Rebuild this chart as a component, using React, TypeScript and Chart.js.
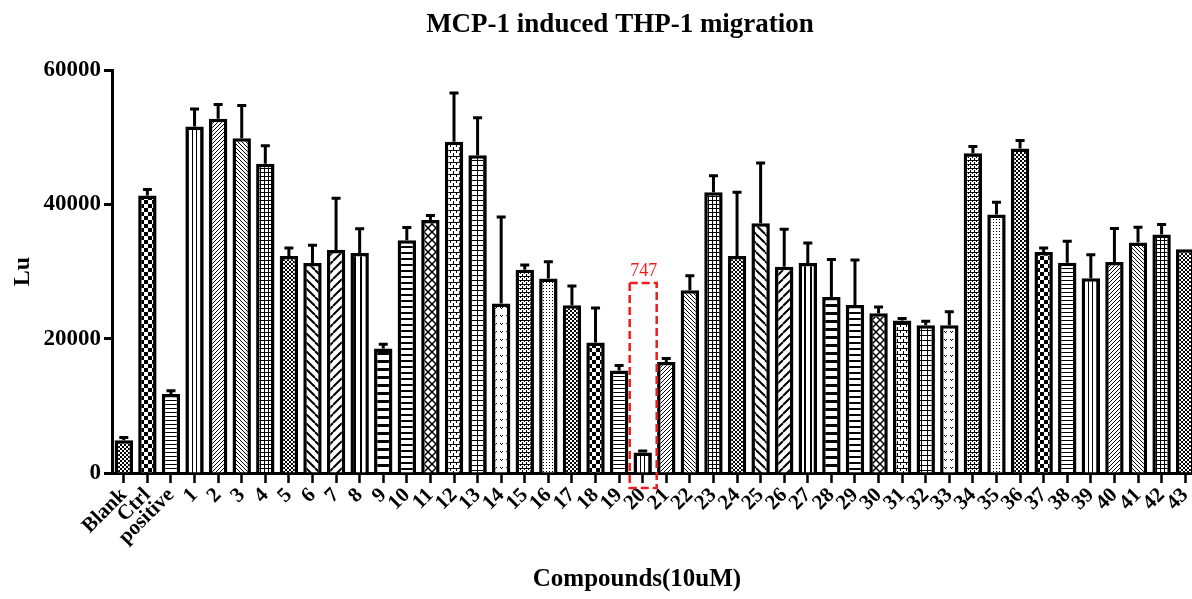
import React, { useEffect, useRef } from "react";
import { Chart, registerables } from "chart.js";

Chart.register(...registerables);

const TITLE = "MCP-1 induced THP-1 migration";
const X_TITLE = "Compounds(10uM)";
const Y_TITLE = "Lu";

const CATEGORIES = [
  "Blank", "Ctrl", "positive",
  "1", "2", "3", "4", "5", "6", "7", "8", "9", "10",
  "11", "12", "13", "14", "15", "16", "17", "18", "19", "20",
  "21", "22", "23", "24", "25", "26", "27", "28", "29", "30",
  "31", "32", "33", "34", "35", "36", "37", "38", "39", "40",
  "41", "42", "43",
];

const MEANS = [
  4890, 41300, 11760,
  51600, 52750, 49850, 46060, 32290, 31250, 33200, 32760, 18530, 34650,
  37680, 49320, 47300, 25250, 30270, 28950, 24980, 19430, 15250, 3040,
  16530, 27210, 41810, 32290, 37170, 30700, 31250, 26200, 25000, 23800,
  22700, 22000, 22000, 47600, 38500, 48300, 32900, 31300, 29000, 31400,
  34300, 35500, 33300,
];

const ERRORS = [
  400, 900, 500,
  2600, 2100, 4850, 2650, 1200, 2650, 7700, 3600, 640, 1900,
  650, 7250, 5600, 12850, 700, 2500, 2860, 5150, 750, 250,
  500, 2170, 2430, 9500, 9000, 5580, 3000, 5600, 6700, 900,
  300, 600, 2000, 1000, 1800, 1200, 600, 3200, 3500, 5000,
  2300, 1500, 0,
];

const Y_TICKS = [0, 20000, 40000, 60000];

const HIGHLIGHT_CATEGORY = "20";
const HIGHLIGHT_LABEL = "747";
const HIGHLIGHT_TOP = 28300;

const SERIF = "'Liberation Serif', 'Times New Roman', serif";

function makePatterns(ctx: CanvasRenderingContext2D): CanvasPattern[] {
  const tile = (w: number, h: number, draw: (g: CanvasRenderingContext2D) => void) => {
    const c = document.createElement("canvas");
    c.width = w;
    c.height = h;
    const g = c.getContext("2d")!;
    g.fillStyle = "#fff";
    g.fillRect(0, 0, w, h);
    g.fillStyle = "#000";
    g.strokeStyle = "#000";
    draw(g);
    return ctx.createPattern(c, "repeat")!;
  };
  const diag = (g: CanvasRenderingContext2D, s: number, lw: number, dir: number) => {
    g.lineWidth = lw;
    g.beginPath();
    for (const off of [-s, 0, s]) {
      if (dir > 0) {
        g.moveTo(off, s);
        g.lineTo(off + s, 0);
      } else {
        g.moveTo(off, 0);
        g.lineTo(off + s, s);
      }
    }
    g.stroke();
  };
  return [
    // 0 fine checker
    tile(4, 4, (g) => { g.fillRect(0, 0, 2, 2); g.fillRect(2, 2, 2, 2); }),
    // 1 coarse checker
    tile(8, 8, (g) => { g.fillRect(0, 0, 4, 4); g.fillRect(4, 4, 4, 4); }),
    // 2 horizontal lines
    tile(4, 4, (g) => { g.fillRect(0, 0, 4, 1); }),
    // 3 vertical lines
    tile(4, 4, (g) => { g.fillRect(0, 0, 1, 4); }),
    // 4 fine /
    tile(4, 4, (g) => { for (let i = 0; i < 4; i++) g.fillRect(i, 3 - i, 1, 1); }),
    // 5 fine \
    tile(4, 4, (g) => { for (let i = 0; i < 4; i++) g.fillRect(i, i, 1, 1); }),
    // 6 grid
    tile(4, 4, (g) => { g.fillRect(0, 0, 4, 1); g.fillRect(0, 0, 1, 4); }),
    // 7 fine crosshatch
    tile(4, 4, (g) => { for (let i = 0; i < 4; i++) { g.fillRect(i, i, 1, 1); g.fillRect(i, 3 - i, 1, 1); } }),
    // 8 wide \
    tile(9, 9, (g) => diag(g, 9, 2, -1)),
    // 9 wide /
    tile(9, 9, (g) => diag(g, 9, 2, 1)),
    // 10 sparse vertical
    tile(6, 6, (g) => { g.fillRect(0, 0, 2, 6); }),
    // 11 thick horizontal bars
    tile(8, 8, (g) => { g.fillRect(0, 0, 8, 3); }),
    // 12 ladder
    tile(6, 6, (g) => { g.fillRect(0, 0, 6, 2); }),
    // 13 X cross
    tile(8, 8, (g) => { diag(g, 8, 1.5, 1); diag(g, 8, 1.5, -1); }),
    // 14 brick
    tile(6, 6, (g) => { g.fillRect(0, 0, 6, 1); g.fillRect(0, 0, 1, 3); g.fillRect(3, 3, 1, 3); }),
    // 15 horizontal lines with center vertical
    tile(6, 5, (g) => { g.fillRect(0, 0, 6, 1); g.fillRect(3, 0, 1, 5); }),
    // 16 v marks
    tile(6, 8, (g) => { g.fillRect(2, 3, 1, 1); g.fillRect(3, 4, 1, 1); g.fillRect(4, 3, 1, 1); }),
    // 17 small brick
    tile(4, 4, (g) => { g.fillRect(0, 0, 4, 1); g.fillRect(0, 0, 1, 2); g.fillRect(2, 2, 1, 2); }),
    // 18 dots
    tile(3, 3, (g) => { g.fillRect(0, 0, 1, 1); }),
  ];
}

const decorPlugin = {
  id: "decor",
  afterDatasetsDraw(chart: any) {
    const { ctx } = chart;
    const xs = chart.scales.x;
    const ys = chart.scales.y;
    ctx.save();
    ctx.strokeStyle = "#000";
    ctx.lineWidth = 3;
    ctx.lineCap = "butt";
    MEANS.forEach((m, i) => {
      const e = ERRORS[i];
      if (!e) return;
      const x = xs.getPixelForValue(i);
      const y0 = ys.getPixelForValue(m);
      const y1 = ys.getPixelForValue(m + e);
      ctx.beginPath();
      ctx.moveTo(x, y0);
      ctx.lineTo(x, y1);
      ctx.moveTo(x - 4.5, y1);
      ctx.lineTo(x + 4.5, y1);
      ctx.stroke();
    });
    ctx.restore();
  },
  afterDraw(chart: any) {
    const { ctx } = chart;
    const xs = chart.scales.x;
    const ys = chart.scales.y;
    ctx.save();
    // titles
    ctx.fillStyle = "#000";
    ctx.textAlign = "center";
    ctx.textBaseline = "middle";
    ctx.font = `bold 27px ${SERIF}`;
    ctx.fillText(TITLE, 620, 25);
    ctx.font = `bold 25px ${SERIF}`;
    ctx.fillText(X_TITLE, 637, 580);

    // highlight box
    const idx = CATEGORIES.indexOf(HIGHLIGHT_CATEGORY);
    const cx = xs.getPixelForValue(idx);
    const top = ys.getPixelForValue(HIGHLIGHT_TOP);
    const bottom = ys.getPixelForValue(0) + 15;
    ctx.strokeStyle = "#f01c1c";
    ctx.lineWidth = 2.5;
    ctx.setLineDash([8, 4]);
    ctx.strokeRect(cx - 13, top, 27, bottom - top);
    ctx.setLineDash([]);
    ctx.fillStyle = "#f01c1c";
    ctx.font = `18px ${SERIF}`;
    ctx.fillText(HIGHLIGHT_LABEL, cx + 1, top - 12);
    ctx.restore();
  },
};

export default function App() {
  const canvasRef = useRef<HTMLCanvasElement | null>(null);

  useEffect(() => {
    const canvas = canvasRef.current;
    if (!canvas) return;
    const ctx = canvas.getContext("2d")!;
    const patterns = makePatterns(ctx);
    const fills = CATEGORIES.map((_, i) => patterns[i % patterns.length]);

    const chart = new Chart(canvas, {
      type: "bar",
      data: {
        labels: CATEGORIES,
        datasets: [
          {
            data: MEANS,
            backgroundColor: fills as any,
            borderColor: "#000",
            borderWidth: 3.5,
            borderSkipped: "bottom",
            barPercentage: 0.78,
            categoryPercentage: 1,
          },
        ],
      },
      options: {
        animation: false,
        responsive: false,
        devicePixelRatio: 1,
        layout: { padding: { top: 70, left: 0, right: 0, bottom: 0 } },
        plugins: {
          legend: { display: false },
          tooltip: { enabled: false },
          title: { display: false },
        },
        scales: {
          x: {
            type: "category",
            offset: true,
            afterFit: (scale: any) => {
              scale.height = 126;
            },
            grid: {
              display: true,
              drawOnChartArea: false,
              drawTicks: true,
              tickLength: 10,
              tickWidth: 2.5,
              tickColor: "#000",
              offset: false,
            },
            border: { display: true, color: "#000", width: 3 },
            ticks: {
              autoSkip: false,
              maxRotation: 45,
              minRotation: 45,
              padding: 0,
              color: "#000",
              font: { family: SERIF, size: 21, weight: "bold" },
            },
          },
          y: {
            min: 0,
            max: 60000,
            afterFit: (scale: any) => {
              scale.width = 112;
            },
            afterBuildTicks: (scale: any) => {
              scale.ticks = Y_TICKS.map((v) => ({ value: v }));
            },
            grid: {
              display: true,
              drawOnChartArea: false,
              drawTicks: true,
              tickLength: 8,
              tickWidth: 3,
              tickColor: "#000",
            },
            border: { display: true, color: "#000", width: 3 },
            ticks: {
              padding: 3,
              color: "#000",
              font: { family: SERIF, size: 23, weight: "bold" },
              callback: (v: any) => String(v),
            },
            title: {
              display: true,
              text: Y_TITLE,
              color: "#000",
              font: { family: SERIF, size: 24, weight: "bold" },
              padding: { top: 8, bottom: 0 },
            },
          },
        },
      },
      plugins: [decorPlugin],
    });

    return () => chart.destroy();
  }, []);

  return (
    <div
      style={{
        position: "fixed",
        left: 0,
        top: 0,
        width: 1192,
        height: 599,
        overflow: "hidden",
        background: "#fff",
      }}
    >
      <canvas
        ref={canvasRef}
        width={1203}
        height={599}
        style={{ display: "block", width: 1203, height: 599 }}
      />
    </div>
  );
}
